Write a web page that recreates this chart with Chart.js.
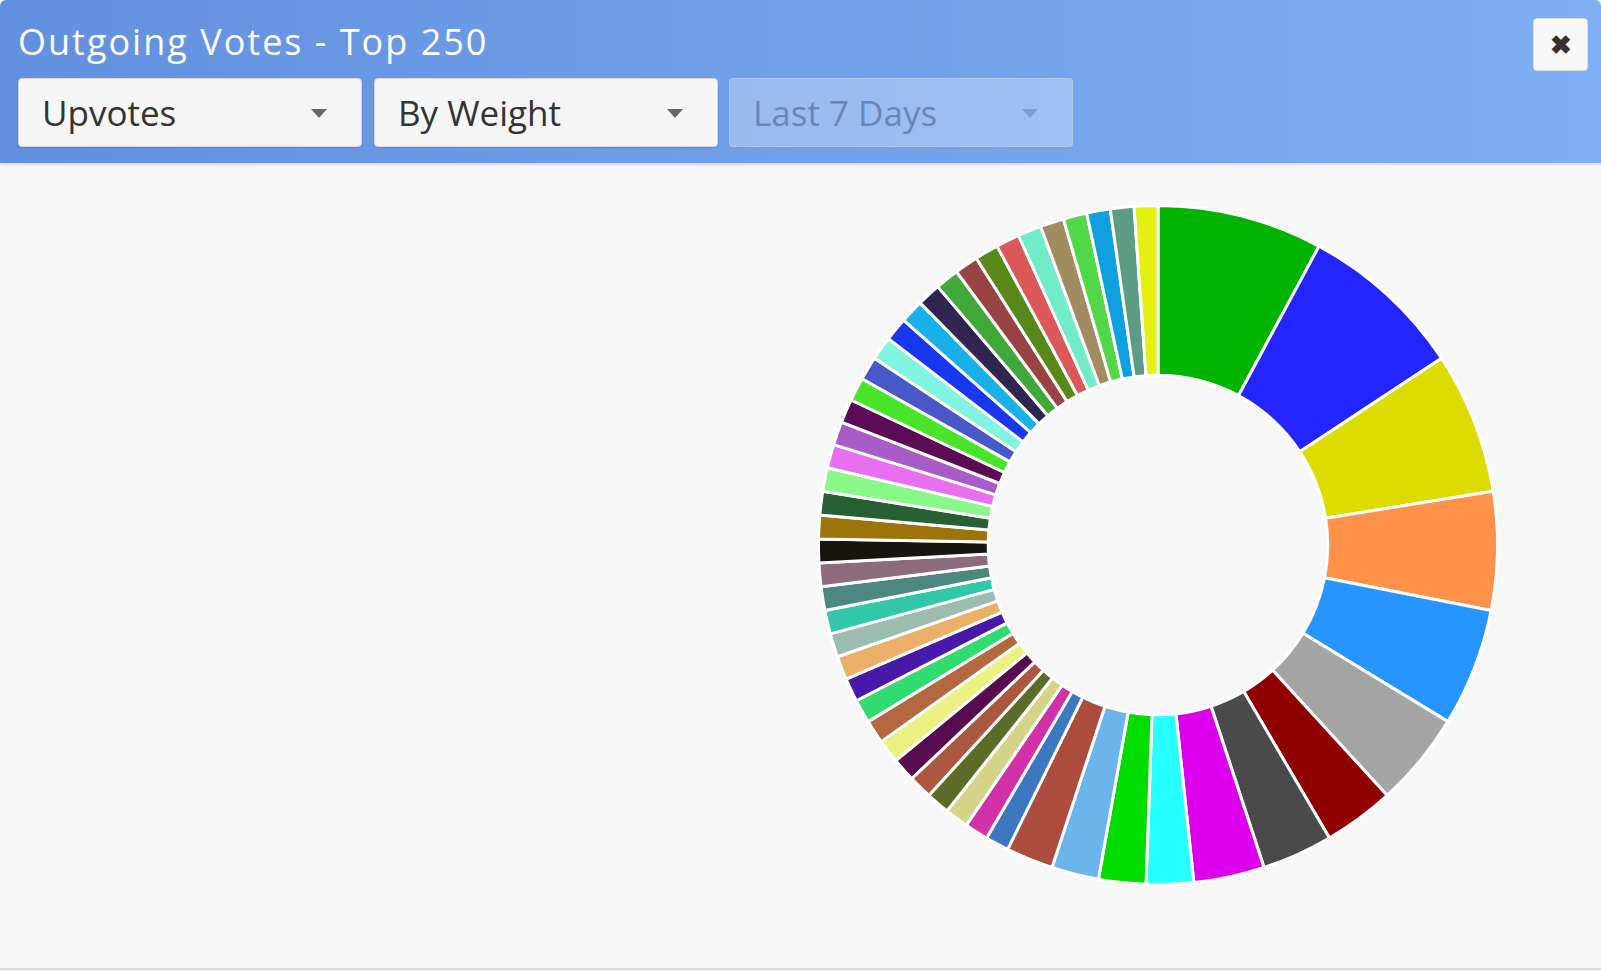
<!DOCTYPE html>
<html>
<head>
<meta charset="utf-8">
<title>Outgoing Votes - Top 250</title>
<script src="https://cdn.jsdelivr.net/npm/chart.js@4.4.0/dist/chart.umd.min.js"></script>
<style>
  html, body { margin: 0; padding: 0; }
  body {
    width: 1601px; height: 971px; overflow: hidden;
    background: #f7f7f7;
    font-family: "Open Sans", "Noto Sans", sans-serif;
    position: relative;
  }
  .header {
    position: absolute; left: 0; top: 0; width: 1601px; height: 163px;
    background: linear-gradient(90deg, #6290de 0%, #80aef4 100%);
    border-radius: 6px 6px 0 0;
    box-shadow: 0 2px 3px rgba(0,0,0,0.12);
  }
  .title {
    position: absolute; left: 18px; top: 17px;
    color: #fff; font-size: 36px; letter-spacing: 2px;
  }
  .select {
    position: absolute; top: 78px; height: 69px; width: 344px;
    box-sizing: border-box;
    background: #f5f5f5; border: 1px solid #d4d8de; border-radius: 4px;
    box-shadow: 0 1px 2px rgba(0,0,0,0.12);
    color: #333; font-size: 35px; line-height: 67px; padding-left: 23px;
  }
  .select .caret {
    position: absolute; right: 34px; top: 30px;
    width: 0; height: 0;
    border-left: 8px solid transparent; border-right: 8px solid transparent;
    border-top: 9px solid #666;
  }
  .select.disabled {
    background: rgba(255,255,255,0.3); border-color: rgba(255,255,255,0.15);
    box-shadow: none;
    color: #6a86b8;
  }
  .select.disabled .caret { border-top-color: #7f9cd0; }
  .close {
    position: absolute; left: 1533px; top: 18px; width: 55px; height: 53px;
    background: #f7f7f7; border-radius: 4px; border: 1px solid #d8dde5;
    box-sizing: border-box;
    color: #333; font-size: 26px; font-weight: bold; text-align: center; line-height: 51px;
  }
  .bottomline {
    position: absolute; left: 0; top: 968px; width: 1601px; height: 2px; background: #d9d9d9;
  }
  #chartBox {
    position: absolute; left: 817px; top: 204px; width: 682px; height: 682px;
  }
</style>
</head>
<body>
<div class="header">
  <div class="title">Outgoing Votes - Top 250</div>
  <div class="select" style="left:18px">Upvotes<span class="caret"></span></div>
  <div class="select" style="left:374px">By Weight<span class="caret"></span></div>
  <div class="select disabled" style="left:729px">Last 7 Days<span class="caret"></span></div>
  <div class="close">&#10006;</div>
</div>
<div id="chartBox"><canvas id="votesChart"></canvas></div>
<div class="bottomline"></div>

<script>
// accounts voted on, biggest first (names are not shown in the picture)
const accounts = [
  'a01','a02','a03','a04','a05','a06','a07','a08','a09','a10',
  'a11','a12','a13','a14','a15','a16','a17','a18','a19','a20',
  'a21','a22','a23','a24','a25','a26','a27','a28','a29','a30',
  'a31','a32','a33','a34','a35','a36','a37','a38','a39','a40',
  'a41','a42','a43','a44','a45','a46','a47','a48','a49','a50','a51'
]

// vote weight per account
const weights = [
  7, 7, 6, 5, 5, 4, 3, 3, 3, 2,
  2, 2, 2, 1, 1, 1, 1, 1, 1, 1,
  1, 1, 1, 1, 1, 1, 1, 1, 1, 1,
  1, 1, 1, 1, 1, 1, 1, 1, 1, 1,
  1, 1, 1, 1, 1, 1, 1, 1, 1, 1, 1
]

const sliceColors = [
  '#00b400','#2424ff','#dcdc00','#ff9248','#2894ff','#a4a4a4','#900000','#4a4a4a','#dc00ec','#28ffff',
  '#00dc00','#6cb4ec','#ac4c3c','#3c78c0','#d030a8','#d4d488','#5c6c28','#ac5840','#580c50','#ecf080',
  '#b46840','#30dc70','#4818a8','#eab068','#9cbcb0','#30c8a8','#4c8880','#8c6c7c','#181410','#9c7408',
  '#286034','#88f888','#e870f0','#a85cc8','#5c0c54','#48e428','#4858c8','#80f4e0','#1838f0','#18b0e8',
  '#302450','#40a838','#984444','#588818','#dc5858','#70ecc8','#a08c60','#50d848','#10a0e0','#5c9c84','#e4f010'
]

new Chart(document.getElementById('votesChart'), {
  type: 'doughnut',
  data: {
    labels: accounts,
    datasets: [
      {
        label: 'weight',
        data: weights,
        backgroundColor: sliceColors,
        borderColor: '#ffffff',
        borderWidth: 3
      }
    ]
  },
  options: {
    responsive: true,
    maintainAspectRatio: false,
    animation: false,
    cutout: '50%',
    plugins: {
      legend: { display: false },
      tooltip: { enabled: false }
    }
  }
})
</script>
</body>
</html>
